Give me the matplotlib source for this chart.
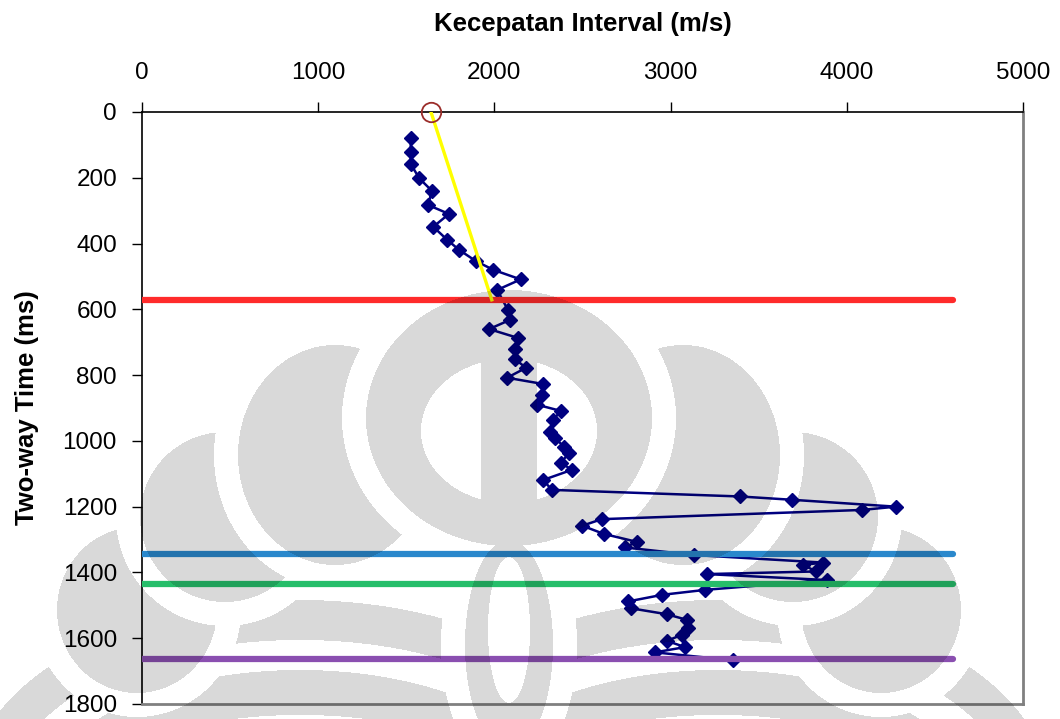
import numpy as np
import matplotlib.pyplot as plt

plt.rcParams['font.family'] = ['Liberation Sans', 'DejaVu Sans']

# kecepatan interval (m/s) vs two-way time (ms)
kecepatan = [1525, 1525, 1525, 1574, 1644, 1625, 1742, 1653, 1733, 1799,
             1894, 1994, 2149, 2016, 2077, 2089, 1970, 2134, 2117, 2117,
             2179, 2072, 2276, 2270, 2242, 2378, 2332, 2316, 2344, 2395,
             2423, 2378, 2440, 2276, 2327, 3394, 3687, 4279, 4085, 2609,
             2499, 2622, 2808, 2741, 3133, 3867, 3753, 3825, 3205, 3885,
             3195, 2953, 2760, 2775, 2978, 3092, 3100, 3063, 2978, 3082,
             2911, 3355]
twt = [80, 121, 158, 202, 239, 283, 310, 349, 389, 419,
       453, 480, 509, 541, 602, 632, 660, 687, 720, 751,
       778, 808, 827, 860, 890, 909, 936, 973, 991, 1018,
       1036, 1067, 1088, 1119, 1149, 1169, 1179, 1200, 1210, 1238,
       1258, 1283, 1307, 1324, 1347, 1370, 1377, 1397, 1405, 1423,
       1453, 1468, 1488, 1509, 1527, 1544, 1569, 1590, 1608, 1627,
       1643, 1667]

# horizon (ms)
horizon_twt = [571, 1345, 1435, 1664]
horizon_warna = ['#FF2B2B', '#2A88CC', '#26BE6A', '#8A4FB0']
horizon_ujung = 4600

# garis tren kecepatan dari permukaan
tren_v = [1640, 1985]
tren_t = [0, 571]

W, H = 1060, 719
fig = plt.figure(figsize=(W / 100, H / 100), dpi=100)
ax = fig.add_axes([142 / W, 1 - 704 / H, (1023 - 142) / W, (704 - 112) / H])

ax.plot(kecepatan, twt, color='#000080', lw=1.8, marker='D', ms=7.5, zorder=2)
for t, c in zip(horizon_twt, horizon_warna):
    ax.plot([0, horizon_ujung], [t, t], color=c, lw=4.5,
            solid_capstyle='round', zorder=3)
ax.plot(tren_v, tren_t, color='#FFFF00', lw=2.4, zorder=4)
ax.plot(tren_v[0], tren_t[0], 'o', mfc='none', mec='#9B2D2A', ms=14,
        mew=1.3, clip_on=False, zorder=5)

ax.set_xlim(0, 5000)
ax.set_ylim(1800, 0)
ax.set_xticks(np.arange(0, 5001, 1000))
ax.set_yticks(np.arange(0, 1801, 200))
ax.xaxis.set_ticks_position('top')
ax.tick_params(axis='x', direction='out', length=7, width=1, labelsize=17.5,
               pad=13)
ax.tick_params(axis='y', direction='out', length=7, width=1, labelsize=17.5,
               pad=11)
for s in ['top', 'left']:
    ax.spines[s].set_color('black')
    ax.spines[s].set_linewidth(1.2)
for s in ['right', 'bottom']:
    ax.spines[s].set_color('#808080')
    ax.spines[s].set_linewidth(2)

fig.text(582.5 / W, 1 - 24 / H, 'Kecepatan Interval (m/s)', ha='center',
         va='center', fontsize=18.5, fontweight='bold')
fig.text(27 / W, 1 - 408 / H, 'Two-way Time (ms)', ha='center',
         va='center', rotation=90, fontsize=18.5, fontweight='bold')


# watermark logo (abu-abu, ditumpuk di atas grafik)
def logo_mask(w, h):
    yy, xx = np.mgrid[0:h, 0:w] + 0.5
    cx = 509

    def ell(xs, x0, y0, a, b, g=0):
        return ((xs - x0) / (a + g)) ** 2 + ((yy - y0) / (b + g)) ** 2 <= 1

    cincin = (cx, 418, 143, 128)
    dalam = (cx, 431, 88, 72)
    batang = (cx, 645, 44, 105)
    g = 24

    def sayap(xs):
        d1 = (335, 455, 97, 110)
        d2 = (225, 517, 85, 85)
        d3 = (137, 610, 80, 83)
        l1 = ell(xs, *d1) & ~ell(xs, *cincin, g)
        l2 = ell(xs, *d2) & ~ell(xs, *d1, g)
        l3 = ell(xs, *d3) & ~ell(xs, *d2, g)
        b1 = ell(xs, 300, 790, 330, 190) & ~ell(xs, 300, 790, 290, 150)
        b2 = ell(xs, 300, 790, 250, 120) & ~ell(xs, 300, 790, 205, 75)
        blok = (ell(xs, *cincin, g) | ell(xs, *d1, g) | ell(xs, *d2, g)
                | ell(xs, *d3, g) | ell(xs, *batang, g))
        busur = (b1 | b2) & ~blok & (xs < cx)
        return l1 | l2 | l3 | busur

    tengah = ell(xx, *cincin) & ~ell(xx, *dalam)
    tengah |= ell(xx, *dalam) & (np.abs(xx - cx) <= 28)
    m = tengah | ell(xx, *batang) | sayap(xx) | sayap(2 * cx - xx)
    m &= ~ell(xx, cx, 630, 21, 73)
    return m


mask = logo_mask(W, H)
rgba = np.zeros((H, W, 4))
rgba[..., 3] = mask * 0.15
ov = fig.add_axes([0, 0, 1, 1], zorder=10)
ov.imshow(rgba, extent=(0, W, H, 0), aspect='auto', interpolation='nearest')
ov.set_xlim(0, W)
ov.set_ylim(H, 0)
ov.axis('off')

fig.savefig('out.png', dpi=100)
